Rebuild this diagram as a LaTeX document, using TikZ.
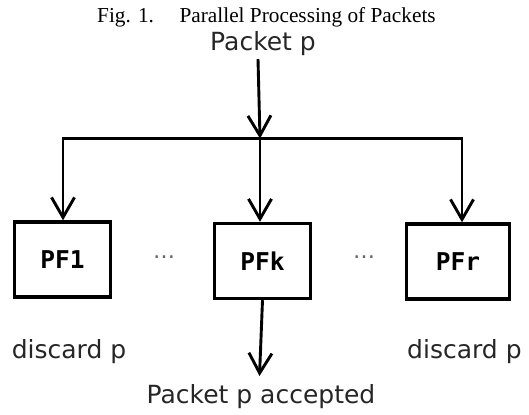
\documentclass[tikz,border=0pt]{standalone}
\usepackage{fontspec}
\setmainfont{Liberation Serif}
\newfontfamily\djsans{DejaVu Sans}
\newfontfamily\djmono{DejaVu Sans Mono}
\usetikzlibrary{arrows.meta}
\begin{document}
\begin{tikzpicture}[x=1bp,y=-1bp,
  lbl/.style={font=\djsans\fontsize{25bp}{30bp}\selectfont, text=black!85, inner sep=0pt},
  pfbox/.style={draw, line width=3.4bp, minimum width=96bp, minimum height=75bp, inner sep=0pt,
     font=\djmono\bfseries\fontsize{24.5bp}{28bp}\selectfont},
  dots/.style={font=\djsans\fontsize{22bp}{26bp}\selectfont, text=black!60, inner sep=0pt},
  conn/.style={line width=2.9bp, -{Straight Barb[length=20bp,width=23bp,line width=2.9bp]}},
  bar/.style={line width=2.9bp, line cap=rect}
]
\useasboundingbox (0,0) rectangle (529,414);
\node[anchor=base west, inner sep=0pt, font=\fontsize{21.3bp}{25bp}\selectfont] (title) at (97,22) {Fig. 1.\hspace{1.2em}Parallel Processing of Packets};
\node[lbl, anchor=base] (pkt) at (263,50) {Packet p};
\node[pfbox] (pf1) at (62.5,259.5) {PF1};
\node[pfbox] (pfk) at (262.5,261) {PFk};
\node[pfbox, minimum width=103bp] (pfr) at (458,261.5) {PFr};
\node[dots, anchor=base] (d1) at (164,258) {…};
\node[dots, anchor=base] (d2) at (364,258) {…};
\node[lbl, anchor=base] (dl) at (69,358) {discard p};
\node[lbl, anchor=base west] (dr) at (407,358) {discard p};
\node[lbl, anchor=base] (acc) at (261,403) {Packet p accepted};
\coordinate (j) at (260,138.5);
\coordinate (bl) at (63,138.5);
\coordinate (br) at (462,138.5);
\coordinate (top) at (258,59);
\coordinate (acct) at (259.5,376);
\draw[conn] (top) -- (j);
\draw[bar] (bl) -- (br);
\draw[conn] (bl) -- (bl |- pf1.north);
\draw[conn] (j) -- (j |- pfk.north);
\draw[conn] (br) -- (br |- pfr.north);
\draw[conn] (pfk.south) -- (acct);
\end{tikzpicture}
\end{document}
